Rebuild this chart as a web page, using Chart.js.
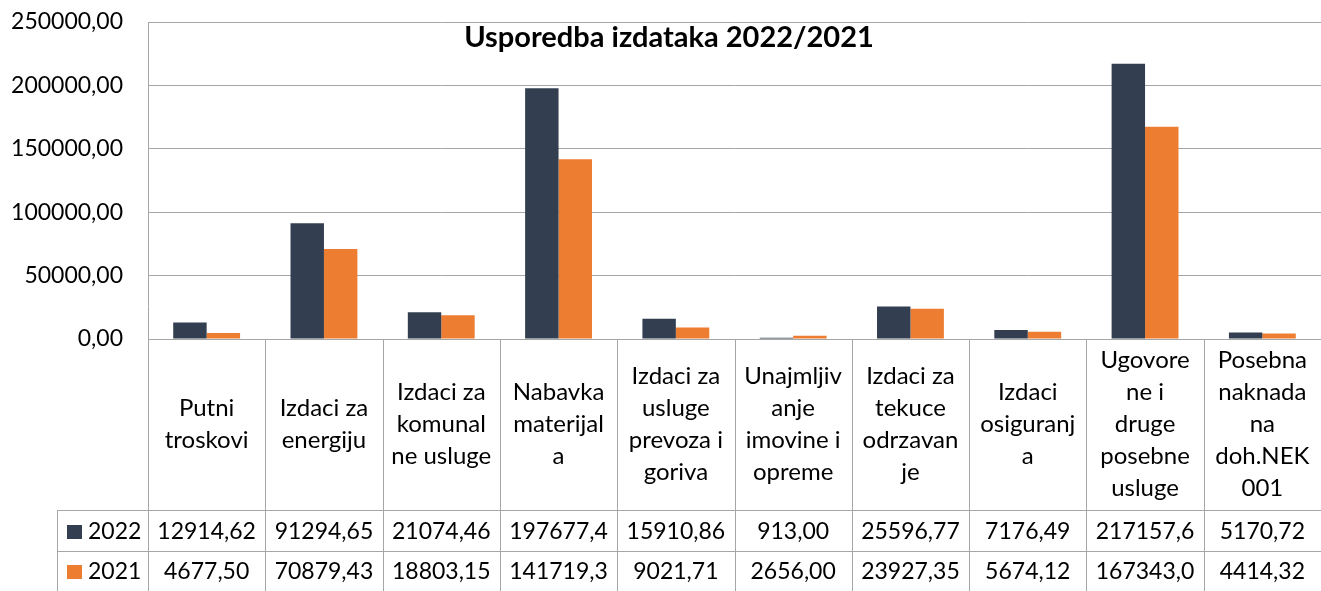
<!DOCTYPE html>
<html>
<head>
<meta charset="utf-8">
<script src="https://cdn.jsdelivr.net/npm/chart.js@4"></script>
<style>
  html, body { margin: 0; padding: 0; background: #ffffff; }
  #wrap { width: 1321px; height: 591px; position: relative; }
</style>
</head>
<body>
<div id="wrap"><canvas id="chart"></canvas></div>
<script>
// podaci
const categories = [
  ['Putni', 'troskovi'],
  ['Izdaci za', 'energiju'],
  ['Izdaci za', 'komunal', 'ne usluge'],
  ['Nabavka', 'materijal', 'a'],
  ['Izdaci za', 'usluge', 'prevoza i', 'goriva'],
  ['Unajmljiv', 'anje', 'imovine i', 'opreme'],
  ['Izdaci za', 'tekuce', 'odrzavan', 'je'],
  ['Izdaci', 'osiguranj', 'a'],
  ['Ugovore', 'ne i', 'druge', 'posebne', 'usluge'],
  ['Posebna', 'naknada', 'na', 'doh.NEK', '001']
];
const seriesNames = ['2022', '2021'];
const values2022 = [12914.62, 91294.65, 21074.46, 197677.4, 15910.86, 913.00, 25596.77, 7176.49, 217157.6, 5170.72];
const values2021 = [4677.50, 70879.43, 18803.15, 141719.3, 9021.71, 2656.00, 23927.35, 5674.12, 167343.0, 4414.32];
const yMin = 0;
const yMax = 250000;
const yStep = 50000;
const titleText = 'Usporedba izdataka 2022/2021';

const COLORS = ['#333f50', '#ed7d31'];
const LINE = '#a6a6a6';
const FONT_FAMILY = 'Lato, "Open Sans", sans-serif';
const FONT_SIZE = 23;

// decimalni zarez, odrezano na sirinu celije kao u Excelu
const fmtCell = (v) => v.toFixed(2).replace('.', ',').slice(0, 8);
const fmtAxis = (v) => v.toFixed(2).replace('.', ',');

const dataTable = {
  id: 'dataTable',
  afterDraw(chart) {
    const { ctx, chartArea, scales: { x } } = chart;
    const n = categories.length;
    const cw = x.width / n;
    const top = chartArea.bottom;
    const row1 = top + 171;
    const row2 = row1 + 41;
    const bottom = chart.height;
    const legendLeft = 57;

    ctx.save();
    ctx.strokeStyle = LINE;
    ctx.lineWidth = 1;
    ctx.beginPath();
    // lijevi rub, produljen kroz tablicu
    ctx.moveTo(chartArea.left + 0.5, chartArea.top);
    ctx.lineTo(chartArea.left + 0.5, bottom);
    // granice kategorija
    for (let i = 1; i <= n; i++) {
      const bx = Math.round(x.getPixelForValue(i) - cw / 2) + 0.5;
      ctx.moveTo(bx, top);
      ctx.lineTo(bx, bottom);
    }
    // redovi tablice
    ctx.moveTo(legendLeft, row1 + 0.5);
    ctx.lineTo(chart.width, row1 + 0.5);
    ctx.moveTo(legendLeft, row2 + 0.5);
    ctx.lineTo(chart.width, row2 + 0.5);
    ctx.moveTo(legendLeft + 0.5, row1);
    ctx.lineTo(legendLeft + 0.5, bottom);
    ctx.stroke();

    ctx.fillStyle = '#000000';
    ctx.font = `24px ${FONT_FAMILY}`;
    ctx.textAlign = 'center';
    ctx.textBaseline = 'middle';

    // nazivi kategorija
    const lh = 32;
    const midLabel = (top + row1) / 2;
    categories.forEach((lines, i) => {
      const cx = x.getPixelForValue(i);
      const y0 = midLabel - (lines.length - 1) * lh / 2;
      lines.forEach((t, j) => ctx.fillText(t, cx, y0 + j * lh));
    });

    // vrijednosti
    ctx.font = `${FONT_SIZE}px ${FONT_FAMILY}`;
    const rows = [values2022, values2021];
    const rowMid = [(row1 + row2) / 2 + 1, (row2 + bottom) / 2 + 1];
    rows.forEach((vals, r) => {
      vals.forEach((v, i) => ctx.fillText(fmtCell(v), x.getPixelForValue(i), rowMid[r]));
    });

    // legenda u tablici
    ctx.textAlign = 'left';
    seriesNames.forEach((name, r) => {
      ctx.fillStyle = COLORS[r];
      ctx.fillRect(67, Math.round(rowMid[r] - 7), 15, 14);
      ctx.fillStyle = '#000000';
      ctx.fillText(name, 88, rowMid[r]);
    });

    // naslov
    ctx.textAlign = 'center';
    ctx.font = `bold 29px ${FONT_FAMILY}`;
    ctx.fillText(titleText, 669, 38);
    ctx.restore();
  }
};

new Chart(document.getElementById('chart'), {
  type: 'bar',
  data: {
    labels: categories,
    datasets: [
      { label: seriesNames[0], data: values2022, backgroundColor: COLORS[0] },
      { label: seriesNames[1], data: values2021, backgroundColor: COLORS[1] }
    ]
  },
  options: {
    responsive: true,
    maintainAspectRatio: false,
    animation: false,
    events: [],
    layout: { padding: { top: 22, left: 0, right: 0, bottom: 0 } },
    datasets: { bar: { categoryPercentage: 0.57, barPercentage: 1.0 } },
    plugins: {
      legend: { display: false },
      title: { display: false },
      tooltip: { enabled: false }
    },
    scales: {
      x: {
        grid: { display: false, drawTicks: false },
        border: { display: true, color: LINE, width: 1 },
        ticks: { display: false },
        afterFit: (scale) => { scale.height = 252; }
      },
      y: {
        min: yMin,
        max: yMax,
        grid: { color: LINE, lineWidth: 1, drawTicks: false },
        border: { display: false },
        ticks: {
          stepSize: yStep,
          padding: 25,
          color: '#000000',
          font: { family: FONT_FAMILY, size: FONT_SIZE },
          callback: (v) => fmtAxis(v)
        },
        afterFit: (scale) => {
          scale.width = 148;
          // padding tickova ne smije pomicati vrh grafa
          scale.paddingTop = 0;
          scale.paddingBottom = 0;
        }
      }
    }
  },
  plugins: [dataTable]
});
</script>
</body>
</html>
